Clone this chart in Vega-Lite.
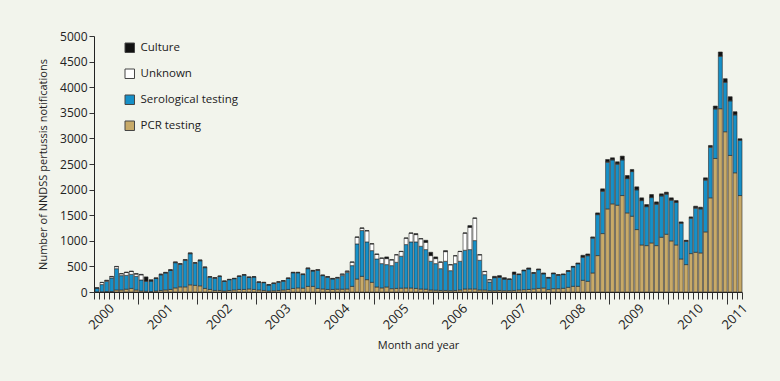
{
"$schema":"https://vega.github.io/schema/vega-lite/v6.json",
"width":648,"height":256,
"autosize":"none",
"padding":{"left":94,"top":36,"right":38,"bottom":89},
"background":"#f2f4ec",
"config":{"view":{"stroke":null},"font":"Open Sans","axis":{"labelFont":"Open Sans","titleFont":"Open Sans","labelColor":"#222","titleColor":"#222","domainColor":"#222","tickColor":"#333","titleFontWeight":"normal","labelFontSize":12,"titleFontSize":11,"grid":false},"legend":{"labelFont":"Open Sans"}},
"data":{"values":[
{"date":"2000-01-15","PCR testing":5,"Serological testing":70,"Unknown":3,"Culture":2},
{"date":"2000-02-15","PCR testing":5,"Serological testing":140,"Unknown":40,"Culture":5},
{"date":"2000-03-15","PCR testing":10,"Serological testing":195,"Unknown":20,"Culture":5},
{"date":"2000-04-15","PCR testing":10,"Serological testing":265,"Unknown":25,"Culture":5},
{"date":"2000-05-15","PCR testing":40,"Serological testing":415,"Unknown":40,"Culture":5},
{"date":"2000-06-15","PCR testing":40,"Serological testing":280,"Unknown":35,"Culture":5},
{"date":"2000-07-15","PCR testing":55,"Serological testing":270,"Unknown":55,"Culture":10},
{"date":"2000-08-15","PCR testing":70,"Serological testing":275,"Unknown":55,"Culture":10},
{"date":"2000-09-15","PCR testing":40,"Serological testing":265,"Unknown":45,"Culture":10},
{"date":"2000-10-15","PCR testing":20,"Serological testing":215,"Unknown":100,"Culture":10},
{"date":"2000-11-15","PCR testing":15,"Serological testing":195,"Unknown":5,"Culture":80},
{"date":"2000-12-15","PCR testing":10,"Serological testing":205,"Unknown":5,"Culture":20},
{"date":"2001-01-15","PCR testing":20,"Serological testing":245,"Unknown":5,"Culture":5},
{"date":"2001-02-15","PCR testing":30,"Serological testing":305,"Unknown":10,"Culture":5},
{"date":"2001-03-15","PCR testing":40,"Serological testing":330,"Unknown":10,"Culture":5},
{"date":"2001-04-15","PCR testing":50,"Serological testing":372,"Unknown":5,"Culture":10},
{"date":"2001-05-15","PCR testing":80,"Serological testing":492,"Unknown":10,"Culture":5},
{"date":"2001-06-15","PCR testing":100,"Serological testing":440,"Unknown":8,"Culture":6},
{"date":"2001-07-15","PCR testing":100,"Serological testing":520,"Unknown":7,"Culture":5},
{"date":"2001-08-15","PCR testing":140,"Serological testing":608,"Unknown":10,"Culture":5},
{"date":"2001-09-15","PCR testing":130,"Serological testing":430,"Unknown":8,"Culture":6},
{"date":"2001-10-15","PCR testing":120,"Serological testing":490,"Unknown":10,"Culture":6},
{"date":"2001-11-15","PCR testing":70,"Serological testing":405,"Unknown":10,"Culture":4},
{"date":"2001-12-15","PCR testing":50,"Serological testing":240,"Unknown":6,"Culture":4},
{"date":"2002-01-15","PCR testing":30,"Serological testing":240,"Unknown":6,"Culture":4},
{"date":"2002-02-15","PCR testing":30,"Serological testing":272,"Unknown":8,"Culture":3},
{"date":"2002-03-15","PCR testing":20,"Serological testing":188,"Unknown":5,"Culture":2},
{"date":"2002-04-15","PCR testing":30,"Serological testing":210,"Unknown":5,"Culture":3},
{"date":"2002-05-15","PCR testing":40,"Serological testing":220,"Unknown":5,"Culture":2},
{"date":"2002-06-15","PCR testing":50,"Serological testing":255,"Unknown":5,"Culture":3},
{"date":"2002-07-15","PCR testing":50,"Serological testing":280,"Unknown":6,"Culture":3},
{"date":"2002-08-15","PCR testing":60,"Serological testing":225,"Unknown":5,"Culture":3},
{"date":"2002-09-15","PCR testing":50,"Serological testing":242,"Unknown":5,"Culture":3},
{"date":"2002-10-15","PCR testing":40,"Serological testing":150,"Unknown":4,"Culture":2},
{"date":"2002-11-15","PCR testing":30,"Serological testing":152,"Unknown":5,"Culture":2},
{"date":"2002-12-15","PCR testing":20,"Serological testing":118,"Unknown":3,"Culture":2},
{"date":"2003-01-15","PCR testing":25,"Serological testing":140,"Unknown":8,"Culture":3},
{"date":"2003-02-15","PCR testing":30,"Serological testing":160,"Unknown":7,"Culture":3},
{"date":"2003-03-15","PCR testing":40,"Serological testing":172,"Unknown":7,"Culture":3},
{"date":"2003-04-15","PCR testing":50,"Serological testing":214,"Unknown":7,"Culture":3},
{"date":"2003-05-15","PCR testing":70,"Serological testing":305,"Unknown":7,"Culture":3},
{"date":"2003-06-15","PCR testing":80,"Serological testing":295,"Unknown":7,"Culture":3},
{"date":"2003-07-15","PCR testing":75,"Serological testing":265,"Unknown":8,"Culture":4},
{"date":"2003-08-15","PCR testing":110,"Serological testing":345,"Unknown":10,"Culture":4},
{"date":"2003-09-15","PCR testing":110,"Serological testing":300,"Unknown":8,"Culture":6},
{"date":"2003-10-15","PCR testing":70,"Serological testing":350,"Unknown":10,"Culture":7},
{"date":"2003-11-15","PCR testing":60,"Serological testing":260,"Unknown":8,"Culture":4},
{"date":"2003-12-15","PCR testing":50,"Serological testing":240,"Unknown":6,"Culture":4},
{"date":"2004-01-15","PCR testing":50,"Serological testing":205,"Unknown":8,"Culture":4},
{"date":"2004-02-15","PCR testing":55,"Serological testing":215,"Unknown":12,"Culture":5},
{"date":"2004-03-15","PCR testing":55,"Serological testing":266,"Unknown":26,"Culture":5},
{"date":"2004-04-15","PCR testing":60,"Serological testing":320,"Unknown":25,"Culture":5},
{"date":"2004-05-15","PCR testing":110,"Serological testing":405,"Unknown":67,"Culture":5},
{"date":"2004-06-15","PCR testing":254,"Serological testing":685,"Unknown":130,"Culture":7},
{"date":"2004-07-15","PCR testing":306,"Serological testing":894,"Unknown":45,"Culture":7},
{"date":"2004-08-15","PCR testing":241,"Serological testing":737,"Unknown":215,"Culture":7},
{"date":"2004-09-15","PCR testing":189,"Serological testing":619,"Unknown":130,"Culture":7},
{"date":"2004-10-15","PCR testing":98,"Serological testing":547,"Unknown":90,"Culture":8},
{"date":"2004-11-15","PCR testing":80,"Serological testing":474,"Unknown":105,"Culture":6},
{"date":"2004-12-15","PCR testing":98,"Serological testing":437,"Unknown":117,"Culture":33},
{"date":"2005-01-15","PCR testing":65,"Serological testing":450,"Unknown":110,"Culture":7},
{"date":"2005-02-15","PCR testing":70,"Serological testing":510,"Unknown":145,"Culture":5},
{"date":"2005-03-15","PCR testing":75,"Serological testing":623,"Unknown":92,"Culture":5},
{"date":"2005-04-15","PCR testing":78,"Serological testing":848,"Unknown":125,"Culture":5},
{"date":"2005-05-15","PCR testing":78,"Serological testing":900,"Unknown":170,"Culture":6},
{"date":"2005-06-15","PCR testing":70,"Serological testing":908,"Unknown":143,"Culture":20},
{"date":"2005-07-15","PCR testing":59,"Serological testing":834,"Unknown":145,"Culture":5},
{"date":"2005-08-15","PCR testing":55,"Serological testing":773,"Unknown":142,"Culture":40},
{"date":"2005-09-15","PCR testing":39,"Serological testing":561,"Unknown":111,"Culture":65},
{"date":"2005-10-15","PCR testing":35,"Serological testing":519,"Unknown":98,"Culture":33},
{"date":"2005-11-15","PCR testing":30,"Serological testing":426,"Unknown":126,"Culture":5},
{"date":"2005-12-15","PCR testing":30,"Serological testing":570,"Unknown":188,"Culture":20},
{"date":"2006-01-15","PCR testing":26,"Serological testing":391,"Unknown":113,"Culture":5},
{"date":"2006-02-15","PCR testing":30,"Serological testing":524,"Unknown":152,"Culture":5},
{"date":"2006-03-15","PCR testing":40,"Serological testing":560,"Unknown":190,"Culture":5},
{"date":"2006-04-15","PCR testing":59,"Serological testing":756,"Unknown":334,"Culture":5},
{"date":"2006-05-15","PCR testing":60,"Serological testing":768,"Unknown":436,"Culture":33},
{"date":"2006-06-15","PCR testing":60,"Serological testing":944,"Unknown":436,"Culture":7},
{"date":"2006-07-15","PCR testing":40,"Serological testing":579,"Unknown":105,"Culture":6},
{"date":"2006-08-15","PCR testing":39,"Serological testing":300,"Unknown":60,"Culture":5},
{"date":"2006-09-15","PCR testing":26,"Serological testing":170,"Unknown":40,"Culture":5},
{"date":"2006-10-15","PCR testing":26,"Serological testing":254,"Unknown":5,"Culture":21},
{"date":"2006-11-15","PCR testing":30,"Serological testing":257,"Unknown":5,"Culture":28},
{"date":"2006-12-15","PCR testing":26,"Serological testing":228,"Unknown":3,"Culture":23},
{"date":"2007-01-15","PCR testing":26,"Serological testing":222,"Unknown":3,"Culture":3},
{"date":"2007-02-15","PCR testing":30,"Serological testing":317,"Unknown":5,"Culture":39},
{"date":"2007-03-15","PCR testing":40,"Serological testing":300,"Unknown":5,"Culture":7},
{"date":"2007-04-15","PCR testing":45,"Serological testing":370,"Unknown":5,"Culture":10},
{"date":"2007-05-15","PCR testing":50,"Serological testing":400,"Unknown":5,"Culture":15},
{"date":"2007-06-15","PCR testing":60,"Serological testing":305,"Unknown":5,"Culture":10},
{"date":"2007-07-15","PCR testing":70,"Serological testing":365,"Unknown":5,"Culture":10},
{"date":"2007-08-15","PCR testing":78,"Serological testing":277,"Unknown":5,"Culture":12},
{"date":"2007-09-15","PCR testing":46,"Serological testing":228,"Unknown":5,"Culture":8},
{"date":"2007-10-15","PCR testing":65,"Serological testing":292,"Unknown":5,"Culture":10},
{"date":"2007-11-15","PCR testing":65,"Serological testing":262,"Unknown":5,"Culture":7},
{"date":"2007-12-15","PCR testing":72,"Serological testing":268,"Unknown":5,"Culture":7},
{"date":"2008-01-15","PCR testing":91,"Serological testing":313,"Unknown":5,"Culture":8},
{"date":"2008-02-15","PCR testing":111,"Serological testing":378,"Unknown":5,"Culture":8},
{"date":"2008-03-15","PCR testing":111,"Serological testing":440,"Unknown":6,"Culture":10},
{"date":"2008-04-15","PCR testing":228,"Serological testing":450,"Unknown":6,"Culture":33},
{"date":"2008-05-15","PCR testing":209,"Serological testing":500,"Unknown":9,"Culture":25},
{"date":"2008-06-15","PCR testing":372,"Serological testing":680,"Unknown":9,"Culture":15},
{"date":"2008-07-15","PCR testing":711,"Serological testing":800,"Unknown":8,"Culture":26},
{"date":"2008-08-15","PCR testing":1141,"Serological testing":826,"Unknown":8,"Culture":40},
{"date":"2008-09-15","PCR testing":1623,"Serological testing":910,"Unknown":10,"Culture":45},
{"date":"2008-10-15","PCR testing":1721,"Serological testing":858,"Unknown":9,"Culture":33},
{"date":"2008-11-15","PCR testing":1695,"Serological testing":800,"Unknown":9,"Culture":39},
{"date":"2008-12-15","PCR testing":1884,"Serological testing":695,"Unknown":10,"Culture":65},
{"date":"2009-01-15","PCR testing":1545,"Serological testing":670,"Unknown":8,"Culture":52},
{"date":"2009-02-15","PCR testing":1480,"Serological testing":872,"Unknown":8,"Culture":33},
{"date":"2009-03-15","PCR testing":1219,"Serological testing":775,"Unknown":8,"Culture":52},
{"date":"2009-04-15","PCR testing":919,"Serological testing":866,"Unknown":8,"Culture":46},
{"date":"2009-05-15","PCR testing":906,"Serological testing":761,"Unknown":8,"Culture":33},
{"date":"2009-06-15","PCR testing":958,"Serological testing":886,"Unknown":8,"Culture":52},
{"date":"2009-07-15","PCR testing":906,"Serological testing":807,"Unknown":8,"Culture":39},
{"date":"2009-08-15","PCR testing":1069,"Serological testing":807,"Unknown":8,"Culture":33},
{"date":"2009-09-15","PCR testing":1128,"Serological testing":782,"Unknown":8,"Culture":32},
{"date":"2009-10-15","PCR testing":998,"Serological testing":795,"Unknown":8,"Culture":38},
{"date":"2009-11-15","PCR testing":919,"Serological testing":830,"Unknown":7,"Culture":30},
{"date":"2009-12-15","PCR testing":645,"Serological testing":700,"Unknown":4,"Culture":20},
{"date":"2010-01-15","PCR testing":535,"Serological testing":455,"Unknown":5,"Culture":15},
{"date":"2010-02-15","PCR testing":750,"Serological testing":690,"Unknown":7,"Culture":20},
{"date":"2010-03-15","PCR testing":776,"Serological testing":860,"Unknown":10,"Culture":30},
{"date":"2010-04-15","PCR testing":763,"Serological testing":860,"Unknown":8,"Culture":25},
{"date":"2010-05-15","PCR testing":1174,"Serological testing":1010,"Unknown":10,"Culture":36},
{"date":"2010-06-15","PCR testing":1839,"Serological testing":985,"Unknown":10,"Culture":28},
{"date":"2010-07-15","PCR testing":2608,"Serological testing":965,"Unknown":10,"Culture":49},
{"date":"2010-08-15","PCR testing":3580,"Serological testing":1020,"Unknown":10,"Culture":78},
{"date":"2010-09-15","PCR testing":3130,"Serological testing":962,"Unknown":10,"Culture":64},
{"date":"2010-10-15","PCR testing":2667,"Serological testing":1065,"Unknown":10,"Culture":72},
{"date":"2010-11-15","PCR testing":2328,"Serological testing":1131,"Unknown":10,"Culture":52},
{"date":"2010-12-15","PCR testing":1884,"Serological testing":1080,"Unknown":5,"Culture":24}
]},
"transform":[
{"fold":["PCR testing","Serological testing","Unknown","Culture"],"as":["method","count"]},
{"calculate":"indexof(['PCR testing','Serological testing','Unknown','Culture'], datum.method)","as":"ord"}
],
"mark":{"type":"bar","stroke":"#2a2a2a","strokeWidth":0.6},
"encoding":{
"x":{"field":"date","type":"temporal","timeUnit":"yearmonth","title":"Month and year",
"scale":{"domain":[{"year":2000,"month":1,"date":1},{"year":2011,"month":1,"date":1}],"nice":false},
"axis":{"tickCount":{"interval":"month","step":1},"labelExpr":"month(datum.value)==3 ? timeFormat(datum.value,'%Y') : ((year(datum.value)==2011 && month(datum.value)==0) ? '2011' : '')","labelOverlap":false,"labelAngle":-45,"labelAlign":"right","labelBaseline":"middle","labelFontSize":13,"labelOffset":3,"tickSize":{"condition":{"test":"month(datum.value)==9","value":12},"value":7},"labelPadding":7,"titlePadding":8,"labelBound":false,"labelFlush":false}},
"y":{"field":"count","type":"quantitative","aggregate":"sum","stack":"zero","title":"Number of NNDSS pertussis notifications",
"scale":{"domain":[0,5000],"nice":false},
"axis":{"values":[0,500,1000,1500,2000,2500,3000,3500,4000,4500,5000],"format":"d","tickSize":5,"labelPadding":2,"titlePadding":11}},
"color":{"field":"method","type":"nominal","title":null,
"scale":{"domain":["Culture","Unknown","Serological testing","PCR testing"],"range":["#111111","#ffffff","#1690c8","#c8aa68"]},
"legend":{"orient":"none","legendX":30,"legendY":6,"symbolType":"square","symbolSize":90,"symbolStrokeColor":"#444","symbolStrokeWidth":1,"symbolOpacity":1,"labelFontSize":11.5,"labelColor":"#222","rowPadding":12,"labelOffset":5,"padding":0}},
"order":{"field":"ord","type":"quantitative","sort":"ascending"}
}
}
